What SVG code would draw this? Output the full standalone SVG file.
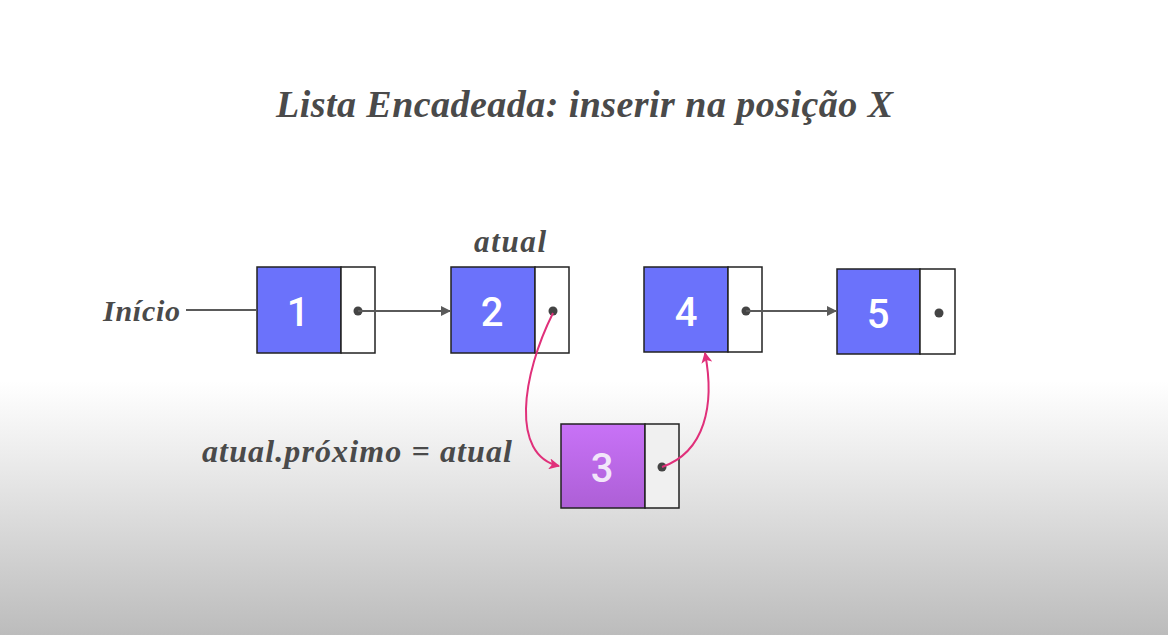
<svg xmlns="http://www.w3.org/2000/svg" width="1168" height="635" viewBox="0 0 1168 635">
<defs>
<linearGradient id="bg" x1="0" y1="0" x2="0" y2="1">
<stop offset="0" stop-color="#ffffff"/>
<stop offset="0.6" stop-color="#ffffff"/>
<stop offset="0.72" stop-color="#ececec"/>
<stop offset="1" stop-color="#bcbcbc"/>
</linearGradient>
<linearGradient id="purp" x1="0" y1="0" x2="0" y2="1">
<stop offset="0" stop-color="#c872f7"/>
<stop offset="1" stop-color="#ad5fd6"/>
</linearGradient>
<marker id="ag" viewBox="0 0 10 10" refX="9" refY="5" markerWidth="10" markerHeight="10" markerUnits="userSpaceOnUse" orient="auto">
<path d="M0,0 L10,5 L0,10 z" fill="#5a5a5a"/>
</marker>
<marker id="ap" viewBox="0 0 10 10" refX="9" refY="5" markerWidth="11" markerHeight="11" markerUnits="userSpaceOnUse" orient="auto">
<path d="M0,0 L10,5 L0,10 L2.5,5 z" fill="#e0307a"/>
</marker>
</defs>
<style>
.lbl{font-family:"Liberation Serif",serif;font-style:italic;font-weight:bold;fill:#4a4a4a}
.num{font-family:Roboto,"DejaVu Sans",sans-serif;font-weight:500;font-size:40px;fill:#ffffff;text-anchor:middle}
.data{fill:#6b72fb;stroke:#222;stroke-width:1.5}
.ptr{fill:#ffffff;stroke:#222;stroke-width:1.5}
.dot{fill:#444}
.ln{stroke:#5a5a5a;stroke-width:2;fill:none}
.pk{stroke:#e0307a;stroke-width:2;fill:none}
</style>
<rect x="0" y="0" width="1168" height="635" fill="url(#bg)"/>
<text class="lbl" x="276" y="117" font-size="38" textLength="617" lengthAdjust="spacing">Lista Encadeada: inserir na posição X</text>
<text class="lbl" x="103" y="321" font-size="30" textLength="77" lengthAdjust="spacing">Início</text>
<text class="lbl" x="474" y="252" font-size="31" textLength="72" lengthAdjust="spacing">atual</text>
<text class="lbl" x="202" y="462" font-size="32" textLength="310" lengthAdjust="spacing">atual.próximo = atual</text>
<g id="node1">
<rect class="data" x="257" y="267" width="84" height="86"/>
<rect class="ptr" x="341" y="267" width="34" height="86"/>
<text class="num" x="298" y="326">1</text>
<circle class="dot" cx="358" cy="311" r="4.5"/>
</g>
<g id="node2">
<rect class="data" x="451" y="267" width="84" height="86"/>
<rect class="ptr" x="535" y="267" width="34" height="86"/>
<text class="num" x="492" y="326">2</text>
<circle class="dot" cx="553" cy="311" r="4.5"/>
</g>
<g id="node4">
<rect class="data" x="644" y="267" width="84" height="85"/>
<rect class="ptr" x="728" y="267" width="34" height="85"/>
<text class="num" x="686" y="326">4</text>
<circle class="dot" cx="746" cy="311" r="4.5"/>
</g>
<g id="node5">
<rect class="data" x="837" y="269" width="83" height="85"/>
<rect class="ptr" x="920" y="269" width="35" height="85"/>
<text class="num" x="878" y="328">5</text>
<circle class="dot" cx="939" cy="313" r="4.5"/>
</g>
<g id="node3">
<rect x="561" y="424" width="84" height="84" fill="url(#purp)" stroke="#222" stroke-width="1.5"/>
<rect x="645" y="424" width="34" height="84" fill="#f0f0f0" stroke="#222" stroke-width="1.5"/>
<text class="num" x="602" y="482" style="fill:#f2e6fa">3</text>
<circle class="dot" cx="662" cy="467" r="4.5"/>
</g>
<g id="connectors">
<path class="ln" d="M186,310 L257,310"/>
<path class="ln" d="M358,311 L450,311" marker-end="url(#ag)"/>
<path class="ln" d="M746,311 L836,311" marker-end="url(#ag)"/>
<path class="pk" d="M553,313 C522,375 510,455 559,466" marker-end="url(#ap)"/>
<path class="pk" d="M662,467 C705,452 715,405 705,353" marker-end="url(#ap)"/>
</g>
</svg>
